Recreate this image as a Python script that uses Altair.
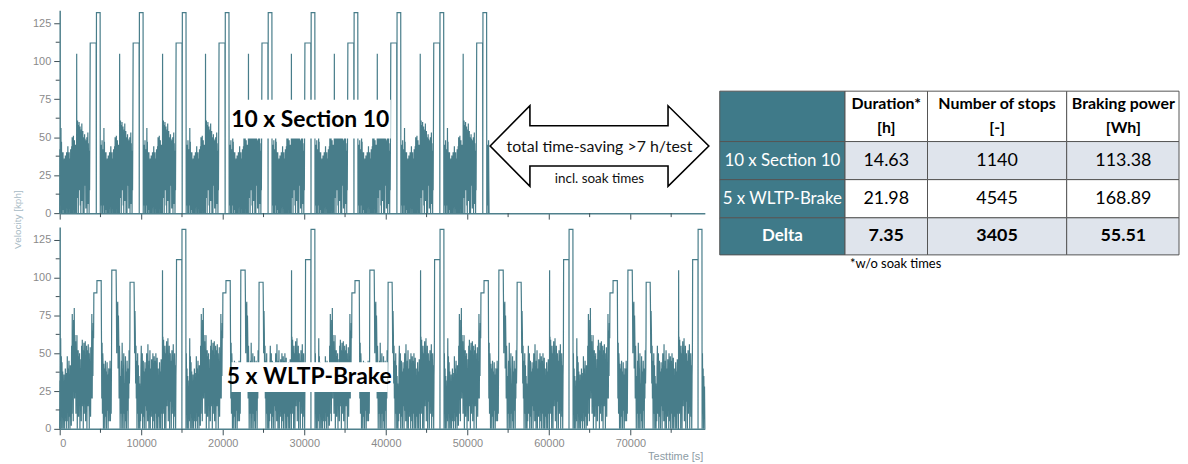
import altair as alt
import pandas as pd

# ---------------- data ----------------
SECTION_S = 5267      # duration of one "Section 10" run [s]
N_SECTION = 10
WLTP_S = 15826        # duration of one WLTP-Brake cycle [s]
N_WLTP = 5
X_MAX = 79128         # 21.98 h in s

# (t_start, t_end, velocities spread over the interval)
section_segments = [
    (0, 600, [0, 42, 5, 38, 12, 56, 0, 47, 18, 40, 0, 30, 8, 40, 2, 35, 0, 22, 36, 0]),
    (630, 1440, [28, 0, 38, 12, 33, 0, 25, 40, 6, 35, 0, 30, 44, 10, 38, 0, 26, 40, 3, 36,
                 0, 32, 15, 42, 0, 30, 8]),
    (1470, 2050, [44, 0, 50, 15, 46, 0, 35, 51, 8, 42, 0, 48, 20, 40, 0, 45, 12, 38, 5, 0]),
    (2070, 2100, [0, 105, 10]),
    (2130, 3700, [55, 10, 61, 25, 58, 0, 52, 30, 60, 15, 50, 28, 57, 5, 45, 0, 38, 55, 20, 59,
                  8, 48, 30, 54, 0, 50, 22, 47, 0, 36, 52, 18, 49, 25, 45, 3, 40, 48, 12, 50,
                  0, 44, 28, 53, 6, 46, 20, 41, 0, 38, 15, 50]),
    (3744, 4470, [112, 112]),
    (4490, 4490, [0]),
    (4510, 4960, [132, 132]),
    (4980, 5260, [0, 30, 5, 45, 10, 38, 0, 48, 20, 0]),
]

wltp_segments = [
    (0, 814, [0, 32, 5, 60, 10, 48, 0, 44, 15, 38, 0, 30, 12, 36, 0, 28, 5, 40, 8, 22, 0]),
    (850, 1425, [37, 5, 48, 12, 40, 0, 35, 45, 8, 30, 0, 42, 18, 33, 2]),
    (1460, 2240, [55, 10, 76, 30, 65, 5, 72, 40, 80, 20, 62, 45, 58, 10, 50, 25, 62, 0, 40, 15]),
    (2270, 2650, [52, 8, 48, 25, 50, 0, 40, 20, 46, 5]),
    (2690, 3870, [55, 15, 59, 25, 52, 0, 45, 57, 10, 50, 28, 58, 5, 48, 20, 55, 0, 42, 52, 15,
                  56, 30, 50, 0, 46, 22, 54, 8, 40, 20]),
    (3900, 4160, [40, 76, 20, 65, 35, 70, 60]),
    (4190, 4560, [90, 90]),
    (4570, 5090, [98, 98]),
    (5120, 6100, [65, 20, 57, 10, 50, 42, 0, 43, 25, 40, 0, 35, 45, 8, 38, 0, 30, 44, 12, 36,
                  0, 28, 40, 5, 30]),
    (6130, 6360, [20, 45, 5, 40, 10, 50]),
    (6390, 6920, [105, 105]),
    (6950, 7500, [88, 50, 83, 70, 84, 40, 75, 58, 20, 55, 40, 0, 35, 10]),
    (7540, 8550, [20, 45, 0, 57, 25, 40, 0, 35, 50, 10, 30, 0, 22, 48, 5, 38, 0, 30, 45, 12,
                  40, 0, 35, 20, 52, 30]),
    (8580, 8610, [40, 60]),
    (8630, 9120, [97, 97]),
    (9150, 9770, [84, 50, 78, 63, 30, 55, 20, 45, 0, 30, 50, 10, 42, 0, 35, 15]),
    (9800, 10790, [30, 0, 26, 5, 40, 55, 10, 35, 50, 0, 30, 45, 8, 38, 0, 28, 44, 15, 40, 0,
                   33, 50, 12, 36, 5]),
    (10820, 11400, [56, 15, 40, 0, 45, 30, 52, 0, 35, 40, 8, 46, 20, 38, 0]),
    (11430, 12570, [50, 5, 40, 25, 48, 0, 38, 45, 10, 50, 0, 42, 28, 47, 0, 35, 40, 8, 30, 0,
                    44, 15, 38, 0, 32, 46, 10, 36, 0]),
    (12590, 12630, [0, 105, 10]),
    (12660, 14300, [61, 10, 59, 30, 45, 0, 55, 25, 50, 0, 42, 58, 15, 52, 28, 60, 5, 48, 20, 55,
                    0, 40, 50, 18, 45, 0, 38, 52, 10, 47, 30, 56, 0, 44, 22, 50, 8, 42, 0, 35,
                    50]),
    (14330, 14980, [112, 112]),
    (14990, 14990, [0]),
    (15000, 15470, [132, 132]),
    (15490, 15826, [0, 50, 10, 40, 0, 35, 12, 28, 0]),
]

labels = ["10 x Section 10", "5 x WLTP-Brake"]

row_names = ["10 x Section 10", "5 x WLTP-Brake", "Delta"]
col_headers = ["Duration*\n[h]", "Number of stops\n[-]", "Braking power\n[Wh]"]
duration_h = ["14.63", "21.98", "7.35"]
n_stops = ["1140", "4545", "3405"]
braking_wh = ["113.38", "168.89", "55.51"]
footnote = "*w/o soak times"
arrow_texts = ["total time-saving >7 h/test", "incl. soak times"]

y_ticks = [0, 25, 50, 75, 100, 125]
y_minor = [12.5, 37.5, 62.5, 87.5, 112.5]
x_ticks = [0, 10000, 20000, 30000, 40000, 50000, 60000, 70000]
x_minor = [5000, 15000, 25000, 35000, 45000, 55000, 65000, 75000]


def expand(segments, period, n):
    ts, vs = [], []
    for k in range(n):
        for t0, t1, vals in segments:
            m = len(vals)
            for i, v in enumerate(vals):
                t = t0 if m == 1 else t0 + (t1 - t0) * i / (m - 1)
                ts.append(k * period + t)
                vs.append(v)
    return ts, vs


ts, vs = expand(section_segments, SECTION_S, N_SECTION)
ts.append(N_SECTION * SECTION_S)
vs.append(0)
top_df = pd.DataFrame({"t": ts, "v": vs})
ts, vs = expand(wltp_segments, WLTP_S, N_WLTP)
bot_df = pd.DataFrame({"t": ts, "v": vs})

# ---------------- style ----------------
LINE = "#487d8a"
AXIS_LINE = "#4f808c"
TICK = "#3c4f56"
LABEL = "#8a8a8a"
TEAL = "#3f7a89"
LIGHT = "#dfe4ec"
FONT = "Lato"
W = 649
H1 = 204
H2 = 203
YMAX = 133.5

xscale = alt.Scale(domain=[0, X_MAX], nice=False, zero=False)
yscale = alt.Scale(domain=[0, YMAX], nice=False)


def axis_common(**kw):
    return alt.Axis(domainColor=AXIS_LINE, domainWidth=1.5, tickColor=TICK, tickWidth=1,
                    labelColor=LABEL, labelFont="Liberation Sans", labelFontSize=11,
                    grid=False, **kw)


def trace(df, h, top):
    if top:
        xax = axis_common(values=x_ticks, tickSize=6, labels=False, title=None)
        yax = axis_common(values=y_ticks, tickSize=6, labelPadding=3, title="Velocity [kph]",
                          titleColor="#a7bac4", titleFont="Liberation Sans", titleFontSize=10,
                          titleFontWeight="normal", titleAngle=270, titleAlign="center",
                          titleBaseline="middle", titleX=-42, titleY=210)
    else:
        xax = axis_common(values=x_ticks, tickSize=6, labelPadding=3, format="d",
                          title="Testtime [s]", titleColor="#8d9ca5", titleFont="Liberation Sans",
                          titleFontSize=11, titleFontWeight="normal", titleAlign="right",
                          titleBaseline="middle", titleX=W - 2, titleY=28)
        yax = axis_common(values=y_ticks, tickSize=6, labelPadding=3, title=None)
    line = alt.Chart(df).mark_line(color=LINE, strokeWidth=1.2).encode(
        x=alt.X("t:Q", scale=xscale, axis=xax),
        y=alt.Y("v:Q", scale=yscale, axis=yax),
    )
    ymin = alt.Chart(pd.DataFrame({"v": y_minor})).mark_rule(color=TICK, strokeWidth=1).encode(
        y=alt.Y("v:Q"), x=alt.value(-4), x2=alt.value(0))
    xmin = alt.Chart(pd.DataFrame({"t": x_minor})).mark_rule(color=TICK, strokeWidth=1).encode(
        x=alt.X("t:Q"), y=alt.value(h), y2=alt.value(h + 4))
    return line, ymin, xmin


def big_label(text, cx, cy, x0, x1, y0, y1):
    d = pd.DataFrame({"label": [text]})
    bg = alt.Chart(d).mark_rect(color="white").encode(
        x=alt.value(x0), x2=alt.value(x1), y=alt.value(y0), y2=alt.value(y1))
    tx = alt.Chart(d).mark_text(font=FONT, fontSize=23, fontWeight="bold", color="black",
                                align="center", baseline="middle").encode(
        text="label:N", x=alt.value(cx), y=alt.value(cy))
    return bg, tx


# ---------------- top chart ----------------
l1, ym1, xm1 = trace(top_df, H1, True)
bg1, tx1 = big_label(labels[0], 252, 110, 172, 333, 90, 129)

ARROW = ("M -1 0 L -0.636 -0.368 L -0.636 -0.186 L 0.627 -0.186 L 0.627 -0.368 L 1 0 "
         "L 0.627 0.368 L 0.627 0.182 L -0.636 0.182 L -0.636 0.368 Z")
one = pd.DataFrame({"a": [0]})
arrow = alt.Chart(one).mark_point(shape=ARROW, size=220 * 220, filled=True, fill="white",
                                  stroke="black", strokeWidth=1.6, opacity=1).encode(
    x=alt.value(543), y=alt.value(136.5))
arr_df = pd.DataFrame({"txt": arrow_texts, "fs": [16, 13.5], "yy": [137, 169.5]})
arrow_txt = alt.Chart(arr_df).mark_text(font=FONT, color="#111111", align="center",
                                        baseline="middle").encode(
    text="txt:N", x=alt.value(543), y=alt.Y("yy:Q", scale=None),
    size=alt.Size("fs:Q", scale=None, legend=None))

# table (layout in pixels relative to the top plot origin)
col_x = [664, 790, 873, 1013, 1126]
col_text_x = [727, 831.5, 943, 1070]
row_y = [81.3, 132, 170.3, 208.7, 246]
row_fill = ["white", LIGHT, "white", LIGHT]
cells = []
for r in range(4):
    for c in range(4):
        if c == 0:
            fill = TEAL
            txt = "" if r == 0 else row_names[r - 1]
            color = "white"
            weight = "bold" if r == 3 else "normal"
            fs = 17
        else:
            fill = row_fill[r]
            if r == 0:
                txt = col_headers[c - 1]
                weight = "bold"
                fs = 16
            else:
                txt = [duration_h, n_stops, braking_wh][c - 1][r - 1]
                weight = "bold" if r == 3 else "normal"
                fs = 18
            color = "black"
        cy = 94.5 if r == 0 else (row_y[r] + row_y[r + 1]) / 2
        cells.append(dict(x0=col_x[c], x1=col_x[c + 1], y0=row_y[r], y1=row_y[r + 1],
                          cx=col_text_x[c], cy=cy,
                          fill=fill, txt=txt, color=color, weight=weight, fs=fs))
cells_df = pd.DataFrame(cells)
cell_rect = alt.Chart(cells_df).mark_rect(stroke="#555555", strokeWidth=1).encode(
    x=alt.X("x0:Q", scale=None), x2="x1:Q",
    y=alt.Y("y0:Q", scale=None), y2="y1:Q",
    fill=alt.Fill("fill:N", scale=None))
cell_norm = alt.Chart(cells_df).transform_filter("datum.weight == 'normal'").mark_text(
    font=FONT, align="center", baseline="middle", lineBreak="\n", lineHeight=24).encode(
    text="txt:N", x=alt.X("cx:Q", scale=None), y=alt.Y("cy:Q", scale=None),
    color=alt.Color("color:N", scale=None), size=alt.Size("fs:Q", scale=None, legend=None))
cell_bold = alt.Chart(cells_df).transform_filter("datum.weight == 'bold'").mark_text(
    font=FONT, fontWeight="bold", align="center", baseline="middle", lineBreak="\n",
    lineHeight=24).encode(
    text="txt:N", x=alt.X("cx:Q", scale=None), y=alt.Y("cy:Q", scale=None),
    color=alt.Color("color:N", scale=None), size=alt.Size("fs:Q", scale=None, legend=None))
foot = alt.Chart(pd.DataFrame({"txt": [footnote]})).mark_text(
    font=FONT, fontSize=13, align="left", baseline="middle", color="black").encode(
    text="txt:N", x=alt.value(795), y=alt.value(255))

top = alt.layer(l1, ym1, xm1, bg1, tx1, arrow, arrow_txt, cell_rect, cell_norm, cell_bold,
                foot).properties(width=W, height=H1)

# ---------------- bottom chart ----------------
l2, ym2, xm2 = trace(bot_df, H2, False)
bg2, tx2 = big_label(labels[1], 251, 151, 173, 330, 136, 166)
bottom = alt.layer(l2, ym2, xm2, bg2, tx2).properties(width=W, height=H2)

chart = alt.vconcat(top, bottom, spacing=14, bounds="flush").properties(
    padding={"left": 5, "top": 0, "right": 0, "bottom": 0}
).configure_view(stroke=None)

chart.save("out.html", embed_options={"renderer": "svg", "actions": False})
